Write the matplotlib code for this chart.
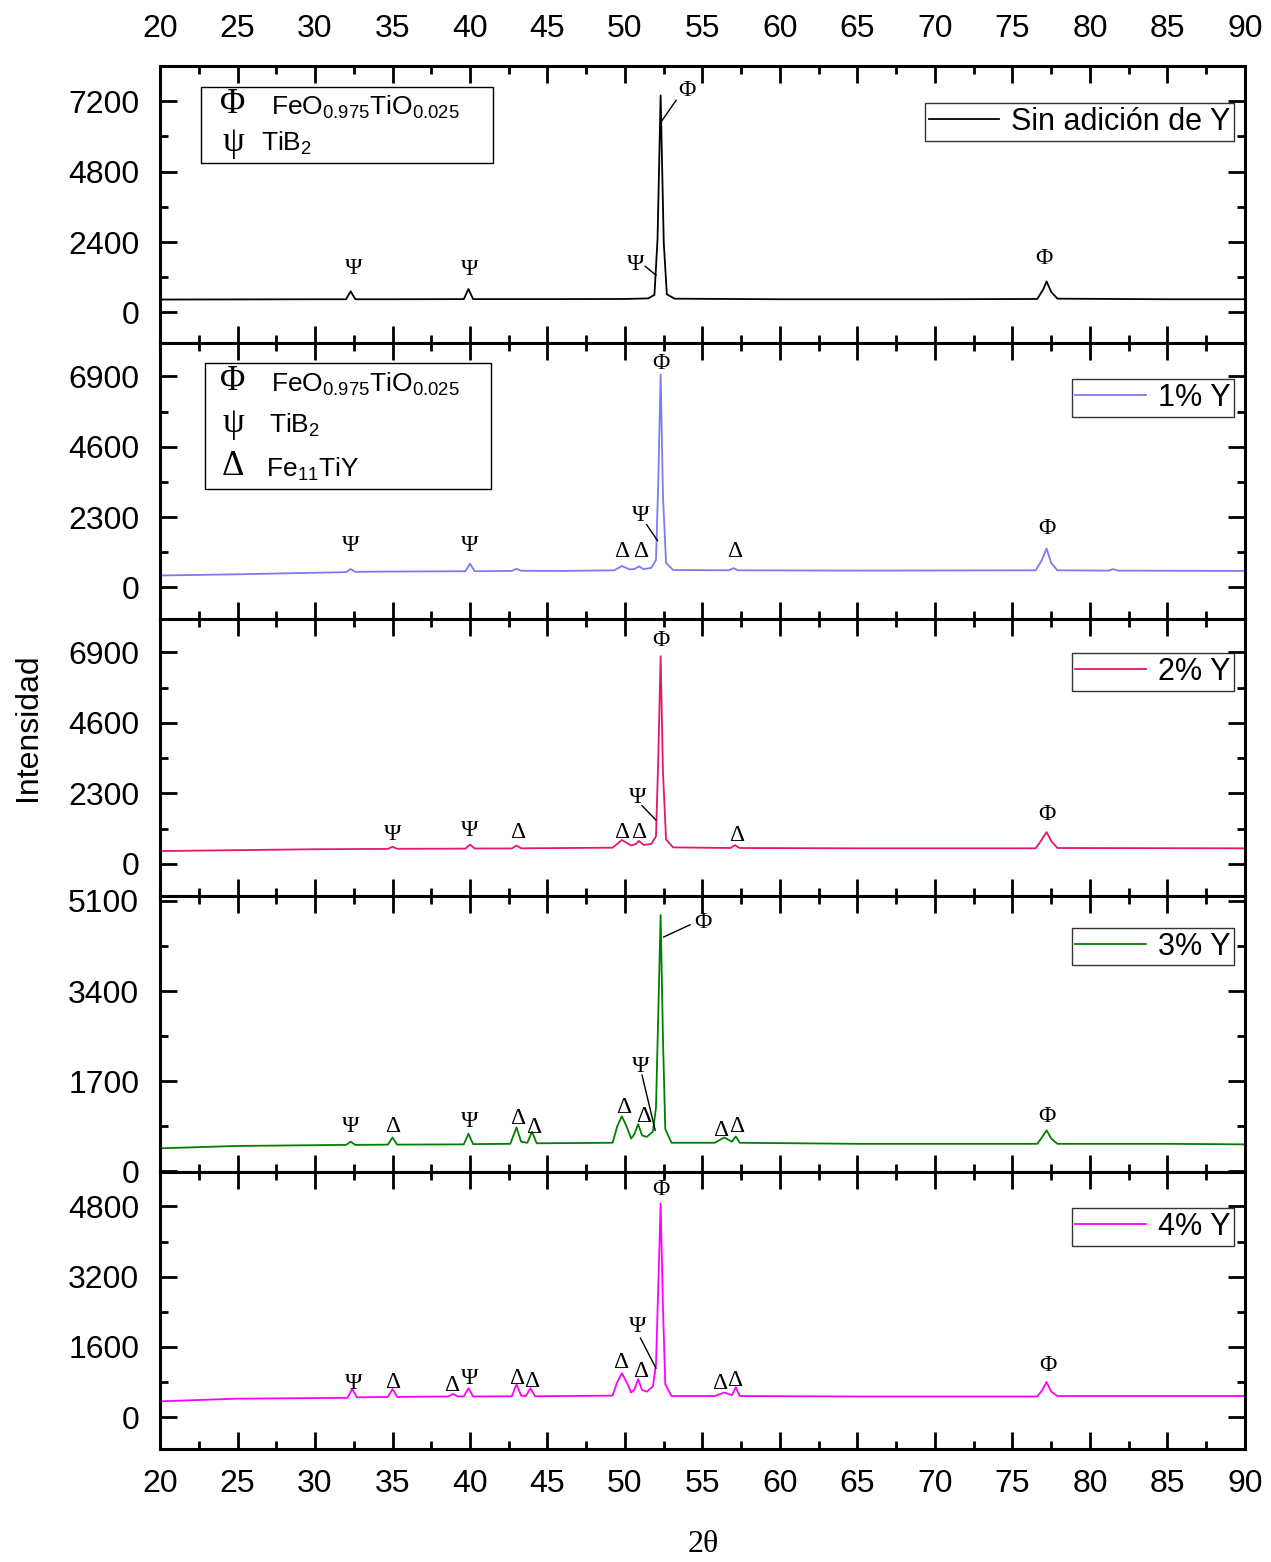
import matplotlib
matplotlib.use('Agg')
import matplotlib.pyplot as plt
from matplotlib.patches import Rectangle
from matplotlib.ticker import MultipleLocator

plt.rcParams['font.family'] = ['Liberation Sans', 'DejaVu Sans']
plt.rcParams['mathtext.fontset'] = 'custom'
plt.rcParams['mathtext.rm'] = 'Liberation Sans'
plt.rcParams['mathtext.it'] = 'Liberation Sans'

# --- data (2theta, intensity) ---
x_0 = [20, 30, 32.0, 32.3, 32.6, 35, 39.6, 39.9, 40.2, 45, 50, 51.5, 51.9, 52.1, 52.3,
       52.5, 52.7, 53.2, 60, 70, 76.6, 77.0, 77.2, 77.5, 77.9, 85, 90]
y_0 = [440, 450, 450, 720, 450, 450, 455, 800, 455, 455, 460, 480, 600, 2500, 7400,
       2400, 620, 470, 450, 450, 460, 800, 1060, 700, 470, 450, 450]

x_1 = [20, 25, 30, 32.0, 32.3, 32.6, 35, 39.7, 40.0, 40.3, 42.7, 43.0, 43.3, 46, 49.3,
       49.8, 50.3, 50.6, 50.9, 51.2, 51.7, 52.0, 52.15, 52.3, 52.45, 52.65, 53.1, 56.7,
       57.0, 57.3, 65, 76.5, 76.9, 77.2, 77.5, 77.9, 81.2, 81.5, 81.8, 90]
y_1 = [390, 430, 480, 500, 600, 510, 520, 530, 780, 530, 540, 610, 545, 540, 560,
       700, 590, 600, 690, 600, 640, 900, 3500, 6960, 3000, 800, 570, 560,
       630, 560, 550, 560, 900, 1270, 800, 560, 550, 600, 550, 540]

x_2 = [20, 30, 34.7, 35.0, 35.3, 39.7, 40.0, 40.3, 42.7, 43.0, 43.3, 49.2, 49.8, 50.4,
       50.7, 50.9, 51.2, 51.7, 52.0, 52.15, 52.3, 52.45, 52.65, 53.1, 56.8, 57.1, 57.4,
       65, 76.5, 76.9, 77.2, 77.5, 77.9, 90]
y_2 = [420, 480, 490, 560, 495, 500, 630, 505, 505, 600, 510, 530, 780, 600,
       650, 750, 620, 650, 900, 3500, 6770, 3000, 800, 540, 520, 610, 520,
       510, 510, 800, 1040, 750, 520, 510]

x_3 = [20, 25, 32.0, 32.3, 32.6, 34.7, 35.0, 35.3, 39.6, 39.9, 40.2, 42.6, 43.0, 43.3,
       43.7, 44.0, 44.3, 49.2, 49.5, 49.8, 50.1, 50.4, 50.6, 50.85, 51.1, 51.4, 51.8,
       52.0, 52.15, 52.3, 52.45, 52.6, 53.0, 55.8, 56.4, 56.9, 57.15, 57.4, 65, 76.6,
       76.9, 77.2, 77.5, 77.9, 85, 90]
y_3 = [435, 480, 500, 560, 500, 505, 640, 505, 510, 710, 515, 520, 830, 560,
       540, 750, 530, 540, 850, 1040, 850, 620, 700, 890, 680, 650, 750,
       1200, 3000, 4835, 2500, 800, 540, 540, 640, 560, 660, 540, 520, 520,
       640, 775, 620, 520, 520, 510]

x_4 = [20, 25, 32.1, 32.4, 32.7, 34.7, 35.0, 35.3, 38.6, 38.9, 39.2, 39.6, 39.9, 40.2,
       42.7, 43.0, 43.3, 43.6, 43.9, 44.2, 49.2, 49.5, 49.8, 50.1, 50.4, 50.6, 50.85,
       51.1, 51.4, 51.8, 52.0, 52.15, 52.3, 52.45, 52.6, 53.0, 55.8, 56.4, 56.9, 57.15,
       57.4, 65, 76.6, 76.9, 77.2, 77.5, 77.9, 90]
y_4 = [360, 420, 440, 640, 450, 460, 640, 460, 470, 530, 470, 470, 660, 470,
       475, 750, 490, 480, 660, 475, 490, 800, 1000, 800, 560, 620, 865,
       620, 580, 700, 1200, 3000, 4870, 2500, 750, 480, 480, 560, 500, 680,
       480, 470, 470, 600, 800, 580, 480, 480]

series_x = [x_0, x_1, x_2, x_3, x_4]
series_y = [y_0, y_1, y_2, y_3, y_4]
labels = ['Sin adición de Y', '1% Y', '2% Y', '3% Y', '4% Y']
colors = ['black', '#7b7bf2', '#e5156f', 'green', 'magenta']

ylims = [(-1030, 8400), (-1040, 8000), (-1040, 7975), (-20, 5195), (-728, 5575)]
ymajor = [2400, 2300, 2300, 1700, 1600]
ymax_tick = [7200, 6900, 6900, 5100, 4800]

# peak markers: (2theta, intensity, symbol)
marks = [
    [(32.5, 1510, 'Ψ'), (40.0, 1475, 'Ψ'), (50.7, 1645, 'Ψ'), (54.0, 7580, 'Φ'), (77.0, 1850, 'Φ')],
    [(32.3, 1365, 'Ψ'), (40.0, 1365, 'Ψ'), (49.8, 1170, 'Δ'), (51.0, 1170, 'Δ'), (51.0, 2340, 'Ψ'),
     (52.3, 7320, 'Φ'), (57.1, 1170, 'Δ'), (77.2, 1920, 'Φ')],
    [(35.0, 975, 'Ψ'), (40.0, 1100, 'Ψ'), (43.1, 1010, 'Δ'), (49.8, 1040, 'Δ'), (50.9, 1040, 'Δ'),
     (50.8, 2180, 'Ψ'), (52.3, 7280, 'Φ'), (57.2, 940, 'Δ'), (77.2, 1625, 'Φ')],
    [(32.3, 850, 'Ψ'), (35.0, 850, 'Δ'), (40.0, 945, 'Ψ'), (43.1, 1000, 'Δ'), (44.1, 830, 'Δ'),
     (49.9, 1210, 'Δ'), (51.2, 1040, 'Δ'), (51.0, 1985, 'Ψ'), (55.0, 4690, 'Φ'), (56.2, 775, 'Δ'),
     (57.2, 850, 'Δ'), (77.2, 1040, 'Φ')],
    [(32.5, 775, 'Ψ'), (35.0, 800, 'Δ'), (38.8, 730, 'Δ'), (40.0, 890, 'Ψ'), (43.0, 890, 'Δ'),
     (44.0, 820, 'Δ'), (49.7, 1250, 'Δ'), (51.0, 1045, 'Δ'), (50.8, 2070, 'Ψ'), (52.3, 5190, 'Φ'),
     (56.1, 775, 'Δ'), (57.1, 840, 'Δ'), (77.3, 1180, 'Φ')],
]
leaders = [
    [((51.3, 52.0), (1575, 1270)), ((52.4, 53.3), (6550, 7235))],
    [((51.4, 52.1), (2050, 1530))],
    [((51.1, 52.0), (1900, 1430))],
    [((51.1, 51.95), (1815, 775)), ((52.5, 54.2), (4420, 4650))],
    [((51.0, 52.0), (1800, 1115))],
]
legend_top = [0.865, 0.867, 0.877, 0.884, 0.870]

serif = ['Liberation Serif', 'DejaVu Serif']

fig, axes = plt.subplots(5, 1, figsize=(12.71, 15.62), dpi=100, sharex=True)
fig.subplots_adjust(left=0.1259, right=0.9795, top=0.9577, bottom=0.0723, hspace=0)

for i, ax in enumerate(axes):
    ax.plot(series_x[i], series_y[i], color=colors[i], lw=1.3, label=labels[i])
    ax.set_xlim(20, 90)
    ax.set_ylim(*ylims[i])
    ax.set_yticks(range(0, ymax_tick[i] + 1, ymajor[i]))
    ax.yaxis.set_minor_locator(MultipleLocator(ymajor[i] / 2))
    ax.xaxis.set_major_locator(MultipleLocator(5))
    ax.xaxis.set_minor_locator(MultipleLocator(2.5))
    ax.tick_params(which='both', direction='in', top=True, right=True, width=2,
                   labelsize=23)
    ax.tick_params(which='major', length=12)
    ax.tick_params(which='minor', length=6)
    ax.tick_params(axis='y', pad=15)
    for s in ax.spines.values():
        s.set_linewidth(2.2)
    for (mx, my, sym) in marks[i]:
        ax.text(mx, my, sym, ha='center', va='center', fontsize=17, family=serif)
    for (lx, ly) in leaders[i]:
        ax.plot(lx, ly, color='black', lw=1)
    leg = ax.legend(loc='upper right', bbox_to_anchor=(0.99, legend_top[i]), borderaxespad=0,
                    fontsize=22, frameon=True, fancybox=False, edgecolor='black',
                    handlelength=2.3, handletextpad=0.4, borderpad=0.12)
    leg.get_frame().set_linewidth(1)

axes[0].tick_params(axis='x', labeltop=True, labelbottom=False, pad=16)
axes[-1].tick_params(axis='x', labelbottom=True, pad=14)

# phase key boxes
ax = axes[0]
ax.add_patch(Rectangle((0.038, 0.651), 0.269, 0.273, transform=ax.transAxes,
                       fill=False, lw=1, edgecolor='black'))
ax.text(0.0673, 0.862, 'Φ', transform=ax.transAxes, fontsize=25, family=serif, ha='center', va='center')
ax.text(0.102, 0.85, r'FeO$_{0.975}$TiO$_{0.025}$', transform=ax.transAxes, fontsize=19, va='center')
ax.text(0.0673, 0.725, 'ψ', transform=ax.transAxes, fontsize=25, family=serif, ha='center', va='center')
ax.text(0.093, 0.72, r'TiB$_{2}$', transform=ax.transAxes, fontsize=19, va='center')

ax = axes[1]
ax.add_patch(Rectangle((0.0415, 0.471), 0.2636, 0.457, transform=ax.transAxes,
                       fill=False, lw=1, edgecolor='black'))
ax.text(0.0673, 0.860, 'Φ', transform=ax.transAxes, fontsize=25, family=serif, ha='center', va='center')
ax.text(0.102, 0.848, r'FeO$_{0.975}$TiO$_{0.025}$', transform=ax.transAxes, fontsize=19, va='center')
ax.text(0.0673, 0.706, 'ψ', transform=ax.transAxes, fontsize=25, family=serif, ha='center', va='center')
ax.text(0.1, 0.7, r'TiB$_{2}$', transform=ax.transAxes, fontsize=19, va='center')
ax.text(0.0673, 0.554, 'Δ', transform=ax.transAxes, fontsize=25, family=serif, ha='center', va='center')
ax.text(0.098, 0.543, r'Fe$_{11}$TiY', transform=ax.transAxes, fontsize=19, va='center')

fig.text(0.022, 0.5346, 'Intensidad', rotation=90, fontsize=23, ha='center', va='center')
fig.text(0.553, 0.011, '2θ', fontsize=23, ha='center', va='center', family=serif)

fig.savefig('out.png', dpi=100)
